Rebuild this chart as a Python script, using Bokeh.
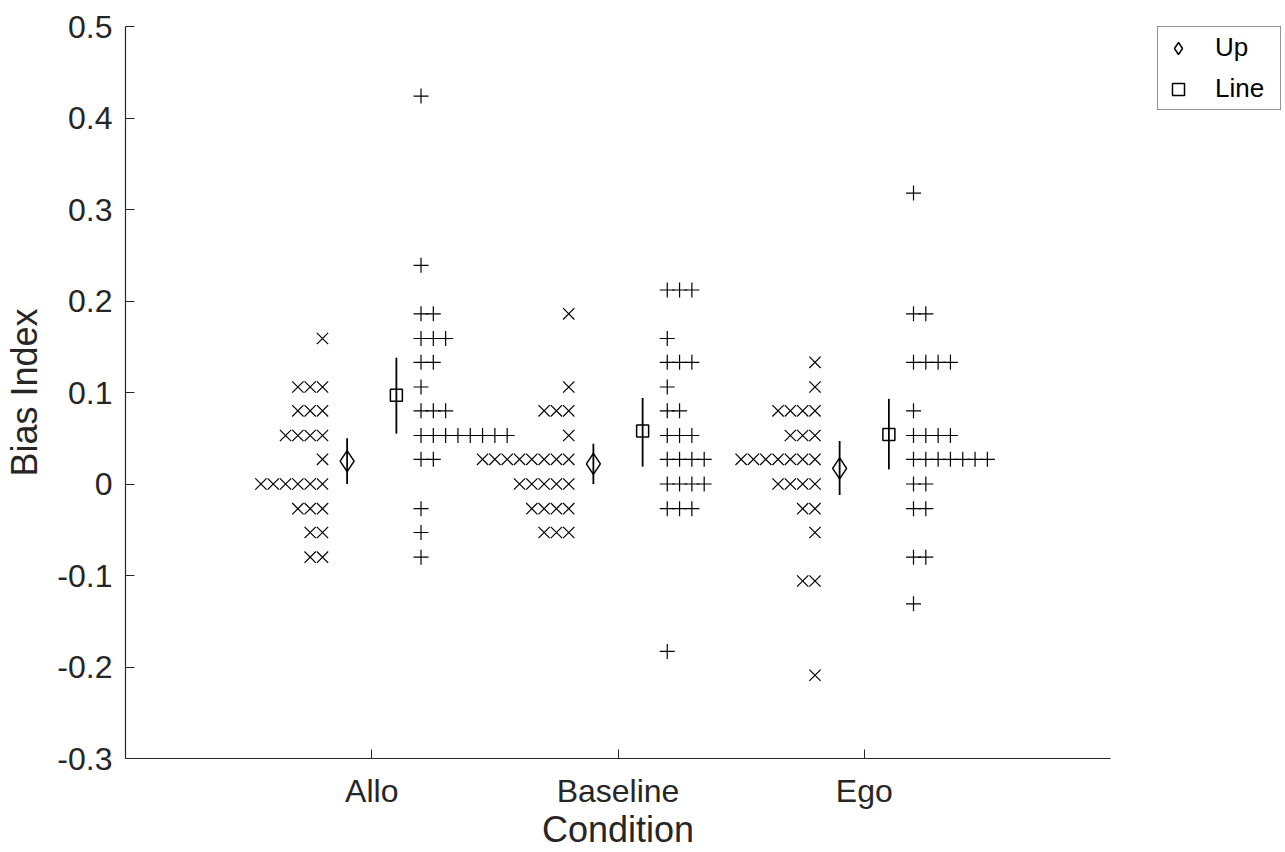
from bokeh.plotting import figure
from bokeh.models import FixedTicker, Legend, LegendItem
from bokeh.layouts import row
from bokeh.embed import file_html
from bokeh.resources import INLINE

conditions = ["Allo", "Baseline", "Ego"]

# individual values (Up = x markers, Line = + markers)
allo_up = [0.159, 0.106, 0.106, 0.106, 0.080, 0.080, 0.080, 0.053, 0.053, 0.053, 0.053,
           0.027, 0.0, 0.0, 0.0, 0.0, 0.0, 0.0, -0.027, -0.027, -0.027, -0.053, -0.053,
           -0.080, -0.080]
allo_line = [0.424, 0.239, 0.186, 0.186, 0.159, 0.159, 0.159, 0.133, 0.133, 0.106,
             0.080, 0.080, 0.080, 0.053, 0.053, 0.053, 0.053, 0.053, 0.053, 0.053, 0.053,
             0.027, 0.027, -0.027, -0.053, -0.080]
base_up = [0.186, 0.106, 0.080, 0.080, 0.080, 0.053, 0.027, 0.027, 0.027, 0.027, 0.027,
           0.027, 0.027, 0.027, 0.0, 0.0, 0.0, 0.0, 0.0, -0.027, -0.027, -0.027, -0.027,
           -0.053, -0.053, -0.053]
base_line = [0.212, 0.212, 0.212, 0.159, 0.133, 0.133, 0.133, 0.106, 0.080, 0.080,
             0.053, 0.053, 0.053, 0.027, 0.027, 0.027, 0.027, 0.0, 0.0, 0.0, 0.0,
             -0.027, -0.027, -0.027, -0.183]
ego_up = [0.133, 0.106, 0.080, 0.080, 0.080, 0.080, 0.053, 0.053, 0.053, 0.027, 0.027,
          0.027, 0.027, 0.027, 0.027, 0.027, 0.0, 0.0, 0.0, 0.0, -0.027, -0.027, -0.053,
          -0.106, -0.106, -0.209]
ego_line = [0.318, 0.186, 0.186, 0.133, 0.133, 0.133, 0.133, 0.080, 0.053, 0.053, 0.053,
            0.053, 0.027, 0.027, 0.027, 0.027, 0.027, 0.027, 0.027, 0.0, 0.0, -0.027,
            -0.027, -0.080, -0.080, -0.131]

up_mean = [0.025, 0.022, 0.017]
up_lo = [0.000, 0.000, -0.012]
up_hi = [0.050, 0.044, 0.047]
line_mean = [0.097, 0.058, 0.054]
line_lo = [0.055, 0.019, 0.016]
line_hi = [0.138, 0.094, 0.093]

y_ticks = [-0.3, -0.2, -0.1, 0, 0.1, 0.2, 0.3, 0.4, 0.5]
y_tick_labels = ["-0.3", "-0.2", "-0.1", "0", "0.1", "0.2", "0.3", "0.4", "0.5"]

TEXT = "#262626"
FONT = "Liberation Sans"

p = figure(width=1130, height=852, x_range=(0, 4), y_range=(-0.3, 0.5),
           output_backend="svg", toolbar_location=None,
           min_border_left=125, min_border_right=20, min_border_top=26,
           min_border_bottom=94)
p.background_fill_color = "white"
p.border_fill_color = "white"
p.outline_line_color = None
p.xgrid.grid_line_color = None
p.ygrid.grid_line_color = None


def spread(vals, center, offset, step, direction):
    xs, ys = [], []
    counts = {}
    for v in vals:
        k = counts.get(v, 0)
        counts[v] = k + 1
        xs.append(center + direction * (offset + step * k))
        ys.append(v)
    return xs, ys

up_x, up_y, ln_x, ln_y = [], [], [], []
for i, (u, l) in enumerate([(allo_up, allo_line), (base_up, base_line), (ego_up, ego_line)]):
    c = i + 1
    xs, ys = spread(u, c, 0.2, 0.05, -1)
    up_x += xs; up_y += ys
    xs, ys = spread(l, c, 0.2, 0.05, 1)
    ln_x += xs; ln_y += ys

p.scatter(up_x, up_y, marker="x", size=16, line_color="black", line_width=1.2)
p.scatter(ln_x, ln_y, marker="cross", size=15, line_color="black", line_width=1.2)

cx = [1, 2, 3]
ux = [c - 0.1 for c in cx]
lx = [c + 0.1 for c in cx]
p.segment(ux, up_lo, ux, up_hi, line_color="black", line_width=1.8)
p.segment(lx, line_lo, lx, line_hi, line_color="black", line_width=1.8)
p.scatter(ux, up_mean, marker="diamond", size=21, fill_color=None,
          line_color="black", line_width=1.5)
p.scatter(lx, line_mean, marker="square", size=12, fill_color=None,
          line_color="black", line_width=1.5)

for ax in (p.xaxis[0], p.yaxis[0]):
    ax.axis_line_color = TEXT
    ax.axis_line_width = 1.2
    ax.major_tick_line_color = TEXT
    ax.major_tick_in = 9
    ax.major_tick_out = 0
    ax.minor_tick_line_color = None
    ax.major_label_text_font = FONT
    ax.major_label_text_font_size = "32px"
    ax.major_label_text_color = TEXT
    ax.axis_label_text_font = FONT
    ax.axis_label_text_font_size = "36px"
    ax.axis_label_text_color = TEXT
    ax.axis_label_text_font_style = "normal"

p.xaxis.ticker = FixedTicker(ticks=cx)
p.xaxis.major_label_overrides = {c: n for c, n in zip(cx, conditions)}
p.xaxis.major_label_standoff = 14
p.xaxis.axis_label = "Condition"
p.xaxis.axis_label_standoff = -3

p.yaxis.ticker = FixedTicker(ticks=y_ticks)
p.yaxis.major_label_overrides = {t: s for t, s in zip(y_ticks, y_tick_labels)}
p.yaxis.major_label_standoff = 13
p.yaxis.axis_label = "Bias Index"
p.yaxis.axis_label_standoff = 9

# legend panel
lp = figure(width=155, height=852, x_range=(0, 1), y_range=(0, 1), title=None,
            output_backend="svg", toolbar_location=None,
            min_border=0, x_axis_location=None, y_axis_location=None)
lp.outline_line_color = None
lp.xgrid.grid_line_color = None
lp.ygrid.grid_line_color = None
lr_up = lp.scatter([5], [5], marker="diamond", size=20, fill_color=None,
                   line_color="black", line_width=1.5)
lr_ln = lp.scatter([5], [5], marker="square", size=12, fill_color=None,
                   line_color="black", line_width=1.5)
legend = Legend(items=[LegendItem(label="Up", renderers=[lr_up]),
                       LegendItem(label="Line", renderers=[lr_ln])],
                location=(27, 648))
legend.label_text_font = FONT
legend.label_text_font_size = "26px"
legend.label_text_color = "black"
legend.border_line_color = TEXT
legend.border_line_width = 1
legend.background_fill_color = "white"
legend.background_fill_alpha = 1
legend.padding = 5
legend.spacing = 10
legend.glyph_width = 30
legend.glyph_height = 30
legend.label_height = 30
legend.label_width = 60
legend.label_standoff = 22
legend.margin = 0
lp.add_layout(legend, "center")

layout = row(p, lp)
open("out.html", "w").write(file_html(layout, INLINE))
